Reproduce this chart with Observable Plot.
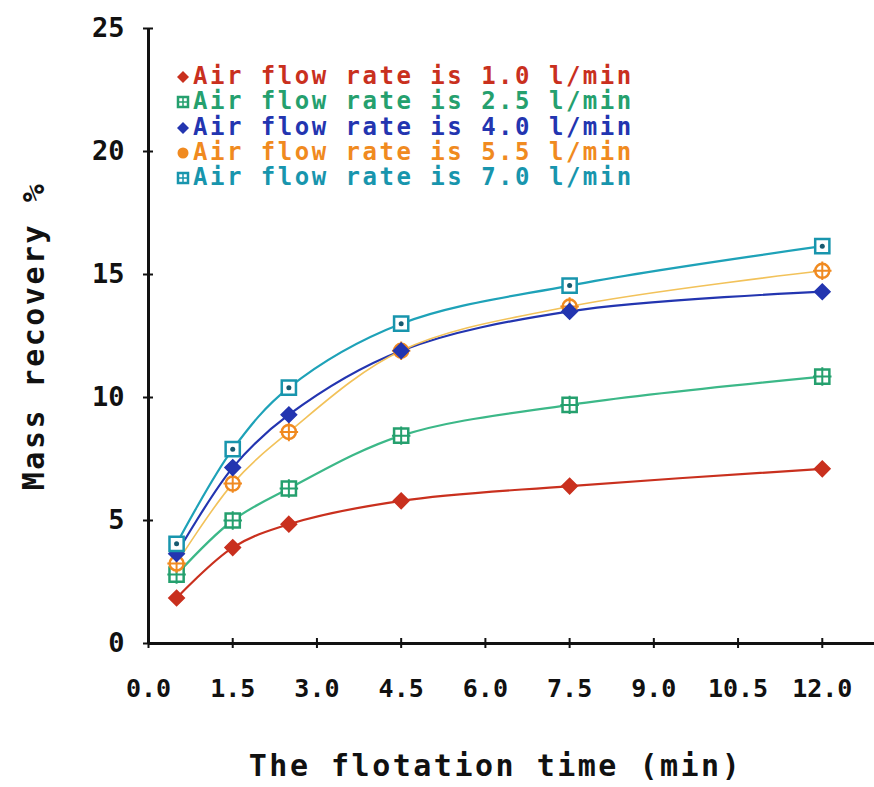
<!DOCTYPE html>
<html><head><meta charset="utf-8">
<script src="https://cdn.jsdelivr.net/npm/d3@7"></script>
<script src="https://cdn.jsdelivr.net/npm/@observablehq/plot@0.6"></script>
<style>
body{margin:0;background:#fff;}
#wrap{position:relative;width:874px;height:787px;}
#legend{position:absolute;left:176px;top:64px;font-family:"DejaVu Sans Mono",monospace;font-weight:bold;font-size:24px;line-height:25.3px;letter-spacing:2.5px;}
#legend div{white-space:pre;}
#legend svg{vertical-align:middle;margin-right:3px;}
</style></head>
<body><div id="wrap"><div id="legend"></div></div>
<script>
const times = [0.5, 1.5, 2.5, 4.5, 7.5, 12];
const seriesNames = ["Air flow rate is 1.0 l/min","Air flow rate is 2.5 l/min","Air flow rate is 4.0 l/min","Air flow rate is 5.5 l/min","Air flow rate is 7.0 l/min"];
const flow10 = [1.85, 3.9, 4.85, 5.8, 6.4, 7.1];
const flow25 = [2.8, 5.0, 6.3, 8.45, 9.7, 10.85];
const flow40 = [3.65, 7.15, 9.3, 11.9, 13.5, 14.3];
const flow55 = [3.25, 6.5, 8.6, 11.9, 13.7, 15.15];
const flow70 = [4.05, 7.9, 10.4, 13.0, 14.55, 16.15];
const xTicks = [0, 1.5, 3, 4.5, 6, 7.5, 9, 10.5, 12];
const yTicks = [0, 5, 10, 15, 20, 25];

const colors = ["#c9301e","#25a06e","#2335b0","#f08a20","#1895ad"];
const lineColors = ["#c9301e","#3cb888","#2335b0","#f2c25a","#1ea2b8"];
const allSeries = [flow10, flow25, flow40, flow55, flow70];
const data = allSeries.flatMap((vals, i) => vals.map((v, j) => ({t: times[j], v, s: seriesNames[i]})));
const bySeries = i => data.filter(d => d.s === seriesNames[i]);
const font = '"DejaVu Sans Mono", monospace';

const marks = [
  Plot.ruleX([0], {y1: 0, y2: 25, stroke: "#111", strokeWidth: 3}),
  Plot.ruleY([0], {stroke: "#111", strokeWidth: 3}),
  Plot.axisX({ticks: xTicks, tickSize: 10, dy: -5, text: null, stroke: "#111", strokeWidth: 2, label: null}),
  Plot.axisX({ticks: xTicks, tickSize: 0, tickPadding: 36, tickFormat: d => d.toFixed(1), fontSize: 25, fontWeight: "bold", fill: "#111",
    label: "The flotation time (min)", labelAnchor: "center", labelOffset: 132, labelArrow: "none"}),
  Plot.axisY({ticks: yTicks, tickSize: 10, dx: 5, text: null, stroke: "#111", strokeWidth: 2, label: null}),
  Plot.axisY({ticks: yTicks, tickSize: 0, tickPadding: 24, fontSize: 27, fontWeight: "bold", fill: "#111",
    label: "Mass recovery %", labelAnchor: "center", labelOffset: 126, labelArrow: "none"})
];
for (let i = 0; i < 5; i++) {
  marks.push(Plot.line(bySeries(i), {x: "t", y: "v", stroke: lineColors[i], strokeWidth: i === 3 ? 1.6 : 2.2, curve: "catmull-rom"}));
}
marks.push(Plot.dot(bySeries(0), {x: "t", y: "v", symbol: "diamond2", r: 7, fill: colors[0], stroke: colors[0]}));
marks.push(Plot.dot(bySeries(1), {x: "t", y: "v", symbol: "square", r: 8, fill: "#fff", stroke: colors[1], strokeWidth: 2.5}));
marks.push(Plot.dot(bySeries(1), {x: "t", y: "v", symbol: "plus", r: 6, stroke: colors[1], strokeWidth: 2}));
marks.push(Plot.dot(bySeries(3), {x: "t", y: "v", symbol: "circle", r: 7, fill: "#fff", stroke: colors[3], strokeWidth: 2.5}));
marks.push(Plot.dot(bySeries(3), {x: "t", y: "v", symbol: "plus", r: 6, stroke: colors[3], strokeWidth: 2}));
marks.push(Plot.dot(bySeries(2), {x: "t", y: "v", symbol: "diamond2", r: 7, fill: colors[2], stroke: colors[2]}));
marks.push(Plot.dot(bySeries(4), {x: "t", y: "v", symbol: "square", r: 8, fill: "#fff", stroke: colors[4], strokeWidth: 2.5}));
marks.push(Plot.dot(bySeries(4), {x: "t", y: "v", r: 2.5, fill: "#175a70"}));

const chart = Plot.plot({
  width: 874, height: 787,
  marginLeft: 148, marginRight: 0, marginTop: 28, marginBottom: 144,
  style: {fontFamily: font, background: "#fff", color: "#111", fontSize: "26px"},
  x: {domain: [0, 12.93]},
  y: {domain: [0, 25]},
  marks
});
chart.querySelectorAll("[aria-label='x-axis label'] text, [aria-label='y-axis label'] text").forEach(t => {
  t.setAttribute("font-size", "30"); t.setAttribute("font-weight", "bold"); t.style.letterSpacing = "2.5px";
});
const xl = chart.querySelector("[aria-label='x-axis label']");
if (xl) xl.setAttribute("transform", (xl.getAttribute("transform") || "") + " translate(-16,0)");
document.getElementById("wrap").prepend(chart);

const legendSymbols = [
  c => `<polygon points="7,1 13,7 7,13 1,7" fill="${c}"/>`,
  c => `<rect x="2" y="2" width="10" height="10" fill="#fff" stroke="${c}" stroke-width="2.5"/><path d="M7,3V11M3,7H11" stroke="${c}" stroke-width="1.5"/>`,
  c => `<polygon points="7,1 13,7 7,13 1,7" fill="${c}"/>`,
  c => `<circle cx="7" cy="7" r="5.5" fill="${c}"/>`,
  c => `<rect x="2" y="2" width="10" height="10" fill="#fff" stroke="${c}" stroke-width="2.5"/><path d="M7,3V11M3,7H11" stroke="${c}" stroke-width="1.5"/>`
];
const leg = document.getElementById("legend");
seriesNames.forEach((name, i) => {
  const div = document.createElement("div");
  div.style.color = colors[i];
  div.innerHTML = `<svg width="14" height="14">${legendSymbols[i](colors[i])}</svg>${name}`;
  leg.appendChild(div);
});
</script></body></html>
